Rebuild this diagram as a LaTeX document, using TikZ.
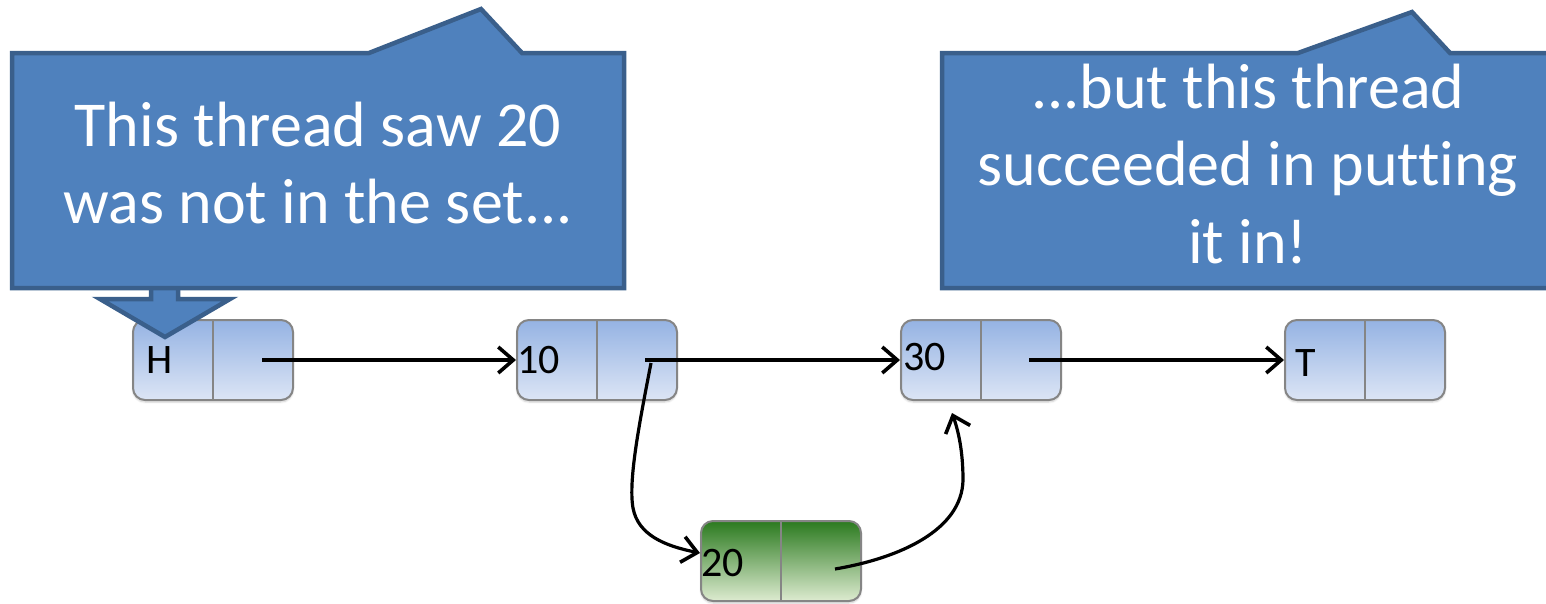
\documentclass[tikz,border=0pt]{standalone}
\usepackage{fontspec}
\setmainfont{Carlito}[Ligatures={NoCommon}]
\usetikzlibrary{arrows.meta,shadows.blur}

\definecolor{calfill}{HTML}{4F81BD}
\definecolor{caldraw}{HTML}{3A5F8B}
\definecolor{celltop}{HTML}{95B3E3}
\definecolor{cellbot}{HTML}{DCE5F5}
\definecolor{greentop}{HTML}{2B7A1F}
\definecolor{greenbot}{HTML}{DDEBD0}
\definecolor{cellline}{HTML}{858585}

\begin{document}
\begin{tikzpicture}[x=1pt,y=-1pt,
  listnode/.style={draw=cellline, line width=2pt, rounded corners=12pt,
    minimum width=160pt, minimum height=80pt, inner sep=0pt,
    top color=celltop, bottom color=cellbot,
    blur shadow={shadow blur steps=6, shadow xshift=0pt, shadow yshift=-2pt, shadow opacity=20}},
  newnode/.style={listnode, top color=greentop, bottom color=greenbot},
  divider/.style={draw=cellline, line width=2pt},
  val/.style={anchor=base west, inner sep=0pt, font=\fontsize{42}{50}\selectfont},
  link/.style={line width=3.2pt, -{Straight Barb[length=15pt,width=26pt,line width=3.6pt]}},
  callout/.style={fill=calfill, draw=caldraw, line width=4.5pt, line join=miter, miter limit=10},
  say/.style={text=white, anchor=base, inner sep=0pt, font=\fontsize{64}{78}\selectfont}
]
\useasboundingbox (0,0) rectangle (1546,603);

% list cells
\node[listnode] (h)   at (213,360) {};
\node[listnode] (n10) at (597,360) {};
\node[listnode] (n30) at (981,360) {};
\node[listnode] (t)   at (1365,360) {};
\node[newnode]  (n20) at (781,561) {};
\foreach \c in {h,n10,n30,t,n20} \draw[divider] (\c.north) -- (\c.south);

\node[val] (lh)  at (146,373) {H};
\node[val] (l10) at (517,373) {10};
\node[val] (l30) at (903,370) {30};
\node[val] (lt)  at (1295,376) {T};
\node[val] (l20) at (701,576) {20};

% pointer origins
\coordinate (ph)  at ([xshift=49pt]h.center);
\coordinate (p10) at ([xshift=48pt]n10.center);
\coordinate (q10) at ([xshift=54pt,yshift=-3pt]n10.center);
\coordinate (p30) at ([xshift=48pt]n30.center);
\coordinate (p20) at ([xshift=54pt,yshift=-8pt]n20.center);
\coordinate (e20) at ([yshift=8pt]n20.west);
\coordinate (e30) at ([xshift=-29pt,yshift=-12pt]n30.south);

% links
\draw[link] (ph) -- (n10.west);
\draw[link] (p10) -- (n30.west);
\draw[link] (p30) -- (t.west);
\draw[link] (q10) .. controls (640,420) and (628,480) .. (633,508)
               .. controls (638,535) and (665,546) .. (e20);
\draw[link] (p20) .. controls (900,558) and (962,530) .. (963,480)
               .. controls (963,450) and (958,430) .. (e30);

% left callout with its downward arrow
\draw[callout] (151,287) -- (151,299) -- (100,299) -- (165,337) -- (230,299)
  -- (178,299) -- (178,287);
\draw[callout] (12,53) -- (369,53) -- (481,9) -- (522,53) -- (624,53)
  -- (624,288) -- (12,288) -- cycle;
\node[say] (sa1) at (318,146) {This thread saw 20};
\node[say] (sa2) at (318,223) {was not in the set...};

% right callout
\draw[callout] (942,53) -- (1298,53) -- (1412,12) -- (1450,53) -- (1556,53)
  -- (1556,288) -- (942,288) -- cycle;
\node[say] (sb1) at (1248,108) {...but this thread};
\node[say] (sb2) at (1248,185) {succeeded in putting};
\node[say] (sb3) at (1248,263) {it in!};
\end{tikzpicture}
\end{document}
